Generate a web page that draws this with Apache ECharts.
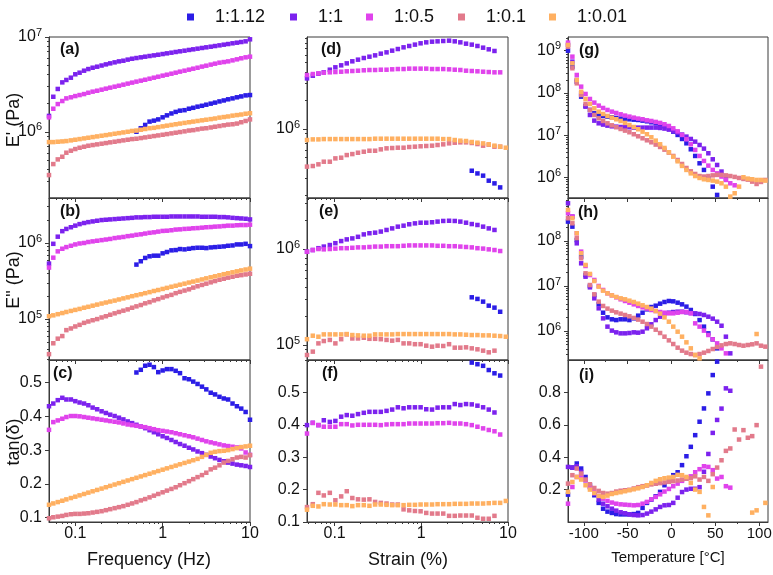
<!DOCTYPE html>
<html>
<head>
<meta charset="utf-8">
<script src="https://cdn.jsdelivr.net/npm/echarts@6.0.0/dist/echarts.min.js"></script>
<style>
html,body{margin:0;padding:0;background:#ffffff;}
#chart{width:773px;height:575px;}
</style>
</head>
<body>
<div id="chart"></div>
<script>
// ===================== DATA =====================
const seriesNames = ['1:1.12', '1:1', '1:0.5', '1:0.1', '1:0.01'];

// ---- column 1: frequency sweep (Hz) ----
const freqHz = [0.050,0.056,0.063,0.071,0.079,0.089,0.100,0.112,0.126,0.141,0.158,0.178,0.200,0.224,0.251,0.282,0.316,0.355,0.398,0.447,0.501,0.562,0.631,0.708,0.794,0.891,1.00,1.12,1.26,1.41,1.58,1.78,2.00,2.24,2.51,2.82,3.16,3.55,3.98,4.47,5.01,5.62,6.31,7.08,7.94,8.91,10.0];
const freqHz_112 = [0.501,0.562,0.631,0.708,0.794,0.891,1.00,1.12,1.26,1.41,1.58,1.78,2.00,2.24,2.51,2.82,3.16,3.55,3.98,4.47,5.01,5.62,6.31,7.08,7.94,8.91,10.0];

// (a) E' vs frequency (Pa)
const freqStorage_112 = [1.00e6,1.09e6,1.18e6,1.28e6,1.31e6,1.35e6,1.42e6,1.49e6,1.56e6,1.62e6,1.67e6,1.69e6,1.75e6,1.79e6,1.84e6,1.88e6,1.93e6,1.98e6,2.03e6,2.09e6,2.14e6,2.20e6,2.25e6,2.31e6,2.36e6,2.42e6,2.44e6];
const freqStorage_100 = [1.47e6,2.34e6,2.83e6,3.32e6,3.52e6,3.72e6,4.04e6,4.20e6,4.41e6,4.59e6,4.74e6,4.86e6,5.00e6,5.14e6,5.27e6,5.40e6,5.53e6,5.62e6,5.77e6,5.90e6,6.00e6,6.10e6,6.20e6,6.30e6,6.40e6,6.50e6,6.61e6,6.72e6,6.83e6,6.95e6,7.06e6,7.17e6,7.30e6,7.41e6,7.53e6,7.66e6,7.78e6,7.90e6,8.03e6,8.16e6,8.30e6,8.43e6,8.58e6,8.71e6,8.85e6,9.00e6,9.45e6];
const freqStorage_050 = [1.42e6,1.75e6,1.96e6,2.11e6,2.25e6,2.31e6,2.38e6,2.44e6,2.50e6,2.58e6,2.65e6,2.71e6,2.78e6,2.85e6,2.92e6,2.99e6,3.06e6,3.14e6,3.22e6,3.30e6,3.38e6,3.46e6,3.54e6,3.63e6,3.72e6,3.81e6,3.91e6,4.00e6,4.10e6,4.20e6,4.31e6,4.41e6,4.52e6,4.63e6,4.74e6,4.87e6,4.98e6,5.11e6,5.23e6,5.36e6,5.44e6,5.53e6,5.67e6,5.81e6,5.96e6,6.10e6,6.20e6];
const freqStorage_010 = [3.49e5,4.56e5,5.11e5,5.45e5,6.01e5,6.31e5,6.57e5,6.78e5,6.95e5,7.12e5,7.24e5,7.36e5,7.48e5,7.60e5,7.73e5,7.85e5,7.98e5,8.11e5,8.24e5,8.37e5,8.44e5,8.58e5,8.72e5,8.86e5,9.01e5,9.15e5,9.30e5,9.45e5,9.61e5,9.77e5,9.93e5,1.01e6,1.03e6,1.04e6,1.06e6,1.08e6,1.09e6,1.11e6,1.13e6,1.15e6,1.17e6,1.19e6,1.20e6,1.22e6,1.26e6,1.30e6,1.35e6];
const freqStorage_001 = [7.78e5,7.78e5,7.85e5,7.91e5,7.98e5,8.11e5,8.24e5,8.37e5,8.51e5,8.65e5,8.79e5,8.93e5,9.08e5,9.22e5,9.37e5,9.53e5,9.68e5,9.84e5,1.00e6,1.02e6,1.03e6,1.05e6,1.07e6,1.09e6,1.10e6,1.12e6,1.14e6,1.16e6,1.18e6,1.20e6,1.22e6,1.24e6,1.26e6,1.28e6,1.30e6,1.32e6,1.34e6,1.36e6,1.38e6,1.41e6,1.43e6,1.45e6,1.48e6,1.50e6,1.52e6,1.55e6,1.57e6];

// (b) E'' vs frequency (Pa)
const freqLoss_112 = [5.20e5,5.75e5,6.36e5,6.68e5,6.81e5,6.81e5,7.31e5,7.61e5,8.00e5,8.07e5,8.32e5,8.24e5,8.40e5,8.57e5,8.66e5,8.66e5,8.57e5,8.74e5,8.83e5,8.92e5,9.01e5,9.19e5,9.28e5,9.57e5,9.57e5,9.75e5,9.10e5];
const freqLoss_100 = [5.36e5,9.75e5,1.21e6,1.43e6,1.53e6,1.61e6,1.69e6,1.77e6,1.83e6,1.88e6,1.92e6,1.96e6,2.00e6,2.02e6,2.04e6,2.06e6,2.08e6,2.10e6,2.12e6,2.14e6,2.17e6,2.17e6,2.19e6,2.19e6,2.21e6,2.21e6,2.21e6,2.21e6,2.23e6,2.23e6,2.23e6,2.23e6,2.23e6,2.23e6,2.23e6,2.21e6,2.21e6,2.21e6,2.21e6,2.19e6,2.19e6,2.17e6,2.14e6,2.12e6,2.10e6,2.08e6,2.04e6];
const freqLoss_050 = [4.75e5,6.41e5,7.76e5,8.40e5,8.83e5,9.19e5,9.57e5,9.85e5,1.00e6,1.03e6,1.05e6,1.07e6,1.09e6,1.11e6,1.13e6,1.16e6,1.18e6,1.20e6,1.23e6,1.25e6,1.28e6,1.30e6,1.33e6,1.36e6,1.38e6,1.41e6,1.44e6,1.45e6,1.47e6,1.50e6,1.51e6,1.53e6,1.54e6,1.56e6,1.57e6,1.59e6,1.61e6,1.62e6,1.64e6,1.65e6,1.67e6,1.69e6,1.69e6,1.71e6,1.72e6,1.72e6,1.74e6];
const freqLoss_010 = [3.46e4,4.81e4,5.53e4,5.98e4,7.16e4,7.53e4,8.00e4,8.40e4,8.92e4,9.29e4,9.66e4,1.00e5,1.05e5,1.09e5,1.14e5,1.19e5,1.24e5,1.29e5,1.34e5,1.41e5,1.47e5,1.53e5,1.61e5,1.67e5,1.76e5,1.83e5,1.92e5,2.00e5,2.08e5,2.19e5,2.28e5,2.37e5,2.46e5,2.59e5,2.70e5,2.81e5,2.92e5,3.04e5,3.16e5,3.29e5,3.39e5,3.50e5,3.60e5,3.71e5,3.78e5,3.86e5,3.94e5];
const freqLoss_001 = [1.09e5,1.12e5,1.16e5,1.20e5,1.24e5,1.28e5,1.32e5,1.36e5,1.41e5,1.45e5,1.50e5,1.55e5,1.60e5,1.65e5,1.70e5,1.75e5,1.81e5,1.87e5,1.93e5,2.00e5,2.06e5,2.12e5,2.19e5,2.26e5,2.34e5,2.41e5,2.49e5,2.57e5,2.66e5,2.74e5,2.83e5,2.92e5,3.02e5,3.11e5,3.21e5,3.32e5,3.43e5,3.54e5,3.65e5,3.77e5,3.89e5,4.00e5,4.12e5,4.24e5,4.36e5,4.48e5,4.60e5];

// (c) tan(delta) vs frequency
const freqTan_112 = [0.530,0.538,0.550,0.553,0.546,0.531,0.536,0.540,0.540,0.535,0.528,0.513,0.510,0.503,0.496,0.488,0.480,0.470,0.465,0.458,0.453,0.450,0.438,0.430,0.423,0.413,0.390];
const freqTan_100 = [0.430,0.438,0.448,0.455,0.450,0.450,0.445,0.441,0.438,0.433,0.426,0.421,0.415,0.410,0.405,0.401,0.396,0.391,0.385,0.380,0.375,0.370,0.365,0.359,0.353,0.347,0.341,0.336,0.330,0.324,0.318,0.313,0.307,0.302,0.296,0.291,0.286,0.281,0.276,0.271,0.267,0.263,0.260,0.257,0.255,0.253,0.250];
const freqTan_050 = [0.360,0.383,0.388,0.393,0.398,0.401,0.401,0.400,0.398,0.396,0.394,0.392,0.390,0.388,0.386,0.384,0.382,0.379,0.376,0.374,0.372,0.370,0.368,0.365,0.362,0.359,0.357,0.355,0.353,0.350,0.347,0.344,0.341,0.338,0.334,0.330,0.326,0.323,0.320,0.317,0.314,0.312,0.310,0.308,0.305,0.293,0.286];
const freqTan_010 = [0.098,0.101,0.103,0.105,0.108,0.110,0.111,0.111,0.112,0.113,0.115,0.117,0.119,0.122,0.125,0.128,0.131,0.134,0.138,0.142,0.146,0.151,0.155,0.160,0.165,0.170,0.175,0.180,0.185,0.190,0.196,0.202,0.208,0.214,0.220,0.226,0.233,0.243,0.248,0.255,0.263,0.268,0.273,0.278,0.280,0.278,0.285];
const freqTan_001 = [0.138,0.142,0.146,0.150,0.154,0.158,0.162,0.166,0.170,0.174,0.178,0.182,0.186,0.190,0.194,0.198,0.202,0.206,0.210,0.214,0.218,0.222,0.226,0.230,0.234,0.238,0.242,0.246,0.250,0.254,0.258,0.262,0.266,0.270,0.274,0.280,0.286,0.292,0.295,0.297,0.298,0.300,0.303,0.306,0.309,0.311,0.313];

// ---- column 2: strain sweep (%) ----
const strainPct = [0.048,0.056,0.065,0.075,0.088,0.102,0.119,0.138,0.160,0.186,0.217,0.252,0.293,0.341,0.397,0.461,0.536,0.624,0.725,0.844,0.981,1.14,1.33,1.54,1.79,2.09,2.43,2.82,3.28,3.82,4.44,5.16,6.00,6.98,8.12,9.44];
const strainPct_112 = [3.82,4.44,5.16,6.00,6.98,8.12];

// (d) E' vs strain (Pa)
const strainStorage_112 = [3.64e5,3.41e5,3.23e5,2.86e5,2.68e5,2.43e5];
const strainStorage_100 = [3.41e6,3.64e6,3.82e6,3.95e6,4.21e6,4.46e6,4.68e6,4.91e6,5.16e6,5.37e6,5.59e6,5.77e6,5.96e6,6.21e6,6.41e6,6.68e6,6.95e6,7.24e6,7.48e6,7.73e6,7.98e6,8.17e6,8.30e6,8.37e6,8.44e6,8.51e6,8.37e6,8.17e6,7.91e6,7.73e6,7.48e6,7.18e6,6.90e6,6.63e6];
const strainStorage_050 = [3.70e6,3.79e6,3.85e6,3.92e6,3.95e6,3.98e6,4.01e6,4.05e6,4.08e6,4.11e6,4.15e6,4.18e6,4.18e6,4.21e6,4.21e6,4.25e6,4.28e6,4.28e6,4.32e6,4.32e6,4.32e6,4.32e6,4.28e6,4.28e6,4.28e6,4.25e6,4.21e6,4.18e6,4.11e6,4.08e6,4.05e6,4.01e6,3.98e6,3.95e6,3.95e6];
const strainStorage_010 = [4.02e5,4.08e5,4.25e5,4.53e5,4.53e5,4.91e5,4.99e5,5.32e5,5.45e5,5.63e5,5.77e5,5.91e5,5.91e5,6.11e5,6.26e5,6.31e5,6.36e5,6.36e5,6.47e5,6.52e5,6.58e5,6.63e5,6.68e5,6.79e5,6.90e5,7.07e5,7.18e5,7.24e5,7.24e5,7.13e5,6.95e5,6.68e5,6.84e5,6.52e5,6.52e5];
const strainStorage_001 = [7.66e5,7.78e5,7.78e5,7.84e5,7.84e5,7.84e5,7.84e5,7.84e5,7.84e5,7.84e5,7.84e5,7.84e5,7.91e5,7.91e5,7.91e5,7.91e5,7.91e5,7.91e5,7.91e5,7.91e5,7.91e5,7.91e5,7.91e5,7.91e5,7.84e5,7.84e5,7.66e5,7.54e5,7.48e5,7.30e5,7.18e5,7.06e5,6.90e5,6.68e5,6.52e5,6.36e5];

// (e) E'' vs strain (Pa)
const strainLoss_112 = [3.14e5,3.02e5,2.83e5,2.57e5,2.45e5,2.22e5];
const strainLoss_100 = [9.38e5,9.76e5,1.02e6,1.06e6,1.10e6,1.15e6,1.21e6,1.26e6,1.29e6,1.34e6,1.42e6,1.46e6,1.48e6,1.52e6,1.58e6,1.64e6,1.71e6,1.75e6,1.81e6,1.85e6,1.88e6,1.88e6,1.90e6,1.93e6,1.96e6,1.97e6,1.96e6,1.93e6,1.88e6,1.82e6,1.78e6,1.71e6,1.64e6,1.58e6];
const strainLoss_050 = [9.38e5,9.76e5,1.00e6,9.92e5,1.00e6,1.01e6,1.02e6,1.02e6,1.03e6,1.04e6,1.04e6,1.05e6,1.06e6,1.06e6,1.07e6,1.07e6,1.07e6,1.08e6,1.09e6,1.09e6,1.09e6,1.09e6,1.09e6,1.08e6,1.08e6,1.07e6,1.07e6,1.06e6,1.05e6,1.04e6,1.02e6,1.01e6,9.92e5,9.76e5,9.53e5];
const strainLoss_010 = [7.87e4,8.53e4,1.04e5,1.10e5,1.13e5,1.04e5,1.15e5,1.29e5,1.17e5,1.17e5,1.19e5,1.16e5,1.16e5,1.15e5,1.13e5,1.11e5,1.13e5,1.04e5,1.04e5,1.02e5,1.02e5,9.84e4,9.61e4,9.84e4,9.77e4,1.02e5,9.38e4,9.38e4,9.46e4,9.23e4,9.02e4,8.73e4,8.39e4,8.73e4];
const strainLoss_001 = [1.15e5,1.25e5,1.22e5,1.29e5,1.29e5,1.29e5,1.29e5,1.30e5,1.27e5,1.26e5,1.25e5,1.25e5,1.29e5,1.29e5,1.29e5,1.29e5,1.30e5,1.30e5,1.30e5,1.30e5,1.30e5,1.30e5,1.30e5,1.30e5,1.30e5,1.30e5,1.29e5,1.29e5,1.28e5,1.27e5,1.27e5,1.26e5,1.26e5,1.25e5,1.24e5,1.22e5];

// (f) tan(delta) vs strain
const strainTan_112 = [0.592,0.587,0.582,0.569,0.559,0.552];
const strainTan_100 = [0.399,0.406,0.399,0.414,0.409,0.412,0.425,0.430,0.428,0.433,0.437,0.440,0.440,0.440,0.443,0.447,0.454,0.451,0.454,0.454,0.454,0.448,0.447,0.453,0.454,0.454,0.464,0.461,0.464,0.463,0.459,0.454,0.447,0.438];
const strainTan_050 = [0.373,0.406,0.399,0.394,0.394,0.394,0.402,0.402,0.398,0.400,0.400,0.400,0.400,0.399,0.401,0.402,0.402,0.402,0.404,0.404,0.404,0.404,0.404,0.405,0.405,0.406,0.404,0.404,0.402,0.399,0.394,0.389,0.384,0.380,0.370];
const strainTan_010 = [0.146,0.155,0.190,0.182,0.190,0.167,0.179,0.195,0.174,0.170,0.169,0.170,0.162,0.159,0.157,0.154,0.154,0.139,0.136,0.134,0.133,0.128,0.126,0.126,0.126,0.119,0.119,0.120,0.120,0.120,0.113,0.110,0.110,0.119];
const strainTan_001 = [0.138,0.150,0.148,0.155,0.154,0.154,0.152,0.152,0.149,0.152,0.152,0.150,0.154,0.154,0.153,0.152,0.152,0.152,0.153,0.153,0.154,0.154,0.154,0.155,0.155,0.155,0.156,0.156,0.156,0.157,0.157,0.157,0.158,0.159,0.159,0.165];

// ---- column 3: temperature sweep (°C) ----
const tempC = [-118,-113,-108,-103,-98,-93,-88,-83,-78,-73,-68,-63,-58,-53,-48,-43,-38,-33,-28,-23,-18,-13,-8,-3,2,7,12,17,22,27,32,37,42,47,52,57,62,67,72,77,82,87,92,97,102,107];

// (g) E' vs temperature (Pa)
const tempStorage_112 = [1.00e9,4.19e8,1.85e8,8.19e7,4.93e7,3.97e7,3.31e7,2.97e7,2.86e7,2.76e7,2.66e7,2.57e7,2.48e7,2.43e7,2.39e7,2.34e7,2.30e7,2.22e7,2.14e7,2.03e7,1.92e7,1.79e7,1.63e7,1.44e7,1.22e7,1.02e7,8.19e6,6.47e6,4.67e6,3.25e6,2.18e6,1.52e6,9.64e5,6.12e5,3.90e5];
const tempStorage_100 = [1.36e9,5.50e8,2.03e8,9.82e7,4.75e7,3.02e7,2.22e7,1.92e7,1.79e7,1.69e7,1.63e7,1.60e7,1.57e7,1.55e7,1.55e7,1.52e7,1.52e7,1.52e7,1.52e7,1.52e7,1.52e7,1.49e7,1.44e7,1.36e7,1.26e7,1.16e7,1.04e7,9.31e6,8.19e6,7.08e6,5.91e6,4.84e6,3.76e6,2.71e6,1.99e6,1.39e6,9.14e5];
const tempStorage_050 = [1.55e9,7.21e8,2.66e8,1.41e8,9.47e7,7.21e7,5.91e7,5.02e7,4.42e7,3.97e7,3.62e7,3.37e7,3.13e7,2.92e7,2.76e7,2.61e7,2.48e7,2.39e7,2.26e7,2.18e7,2.07e7,1.96e7,1.82e7,1.66e7,1.46e7,1.24e7,1.02e7,8.05e6,6.13e6,4.51e6,3.25e6,2.48e6,1.92e6,1.52e6,1.26e6,1.06e6,8.81e5,7.35e5,6.59e5];
const tempStorage_010 = [1.24e9,3.83e8,1.69e8,8.97e7,5.50e7,3.97e7,3.02e7,2.52e7,2.18e7,1.92e7,1.72e7,1.55e7,1.41e7,1.29e7,1.18e7,1.06e7,9.47e6,8.50e6,7.62e6,6.84e6,6.03e6,5.30e6,4.58e6,3.90e6,3.25e6,2.61e6,2.10e6,1.69e6,1.41e6,1.22e6,1.09e6,1.06e6,1.09e6,1.13e6,1.16e6,1.16e6,1.13e6,1.09e6,1.04e6,9.82e5,9.31e5,8.97e5,8.05e5,7.08e5,7.91e5,8.81e5];
const tempStorage_001 = [1.36e9,5.02e8,2.03e8,1.07e8,7.21e7,5.50e7,4.34e7,3.62e7,3.19e7,2.86e7,2.61e7,2.39e7,2.18e7,1.96e7,1.75e7,1.57e7,1.39e7,1.22e7,1.06e7,8.97e6,7.48e6,6.13e6,5.02e6,3.97e6,3.13e6,2.43e6,1.89e6,1.52e6,1.26e6,1.09e6,9.82e5,9.14e5,8.81e5,8.50e5,8.05e5,7.35e5,6.12e5,3.56e5,4.27e5,6.12e5,1.02e6,9.47e5,9.14e5,8.81e5,8.81e5,8.50e5];

// (h) E'' vs temperature (Pa)
const tempLoss_112 = [2.69e8,2.08e8,1.05e8,4.49e7,1.75e7,1.00e7,6.31e6,3.98e6,2.55e6,2.01e6,1.82e6,1.75e6,1.82e6,1.82e6,1.75e6,1.91e6,2.19e6,2.55e6,3.03e6,3.41e6,3.65e6,4.05e6,4.41e6,4.64e6,4.56e6,4.26e6,3.91e6,3.48e6,2.93e6,2.39e6,1.75e6,1.25e6,8.87e5,6.53e5,4.12e5];
const tempLoss_100 = [6.87e8,3.48e8,8.87e7,3.19e7,1.61e7,9.33e6,5.32e6,3.19e6,1.91e6,1.25e6,1.02e6,9.34e5,8.87e5,8.87e5,9.03e5,9.34e5,9.18e5,9.66e5,1.15e6,1.41e6,1.75e6,2.08e6,2.39e6,2.56e6,2.64e6,2.69e6,2.69e6,2.60e6,2.51e6,2.47e6,2.39e6,2.27e6,2.08e6,1.88e6,1.61e6,1.31e6,7.48e5,3.19e5];
const tempLoss_050 = [4.12e8,3.48e8,1.48e8,5.80e7,2.78e7,1.75e7,1.36e7,1.00e7,8.15e6,6.87e6,6.20e6,5.60e6,5.06e6,4.64e6,4.26e6,3.91e6,3.60e6,3.36e6,3.14e6,2.93e6,2.78e6,2.64e6,2.55e6,2.47e6,2.47e6,2.55e6,2.64e6,2.64e6,2.47e6,1.48e6,1.25e6,1.02e6,8.15e5,6.53e5,5.32e5,4.12e5,3.19e5];
const tempLoss_010 = [3.19e8,2.47e8,1.15e8,4.12e7,1.91e7,1.05e7,6.53e6,4.49e6,3.60e6,3.14e6,2.83e6,2.60e6,2.43e6,2.27e6,2.12e6,1.95e6,1.79e6,1.61e6,1.43e6,1.25e6,1.07e6,9.03e5,7.48e5,6.20e5,5.14e5,4.26e5,3.66e5,3.30e5,3.08e5,2.93e5,3.08e5,3.30e5,3.60e5,3.98e5,4.41e5,4.80e5,5.14e5,5.32e5,5.14e5,4.89e5,4.72e5,4.89e5,5.06e5,5.32e5,4.72e5,4.49e5];
const tempLoss_001 = [4.89e8,3.19e8,1.48e8,5.32e7,2.93e7,1.85e7,1.29e7,9.66e6,7.88e6,6.87e6,6.20e6,5.70e6,5.32e6,5.06e6,4.72e6,4.41e6,4.05e6,3.72e6,3.41e6,3.14e6,2.78e6,2.43e6,2.01e6,1.61e6,1.25e6,9.66e5,7.48e5,5.60e5,4.12e5,2.93e5,2.47e5,null,null,null,null,null,null,null,null,null,null,null,null,8.57e5,null,null];

// (i) tan(delta) vs temperature
const tempTan_112 = [0.169,0.336,0.361,0.330,0.278,0.227,0.165,0.118,0.082,0.064,0.056,0.049,0.047,0.047,0.047,0.049,0.056,0.087,0.118,0.138,0.159,0.186,0.227,0.254,0.289,0.307,0.351,0.406,0.464,0.536,0.619,0.701,0.794,0.907,0.990];
const tempTan_100 = [0.340,0.336,0.344,0.309,0.258,0.216,0.175,0.138,0.113,0.097,0.082,0.070,0.060,0.054,0.047,0.043,0.041,0.043,0.052,0.064,0.078,0.093,0.103,0.105,0.118,0.150,0.185,0.200,0.205,0.205,0.215,0.310,0.420,0.550,0.630,0.700,0.825,0.810];
const tempTan_050 = [0.113,0.216,0.278,0.282,0.258,0.216,0.186,0.161,0.144,0.130,0.120,0.113,0.109,0.107,0.105,0.103,0.105,0.113,0.124,0.140,0.155,0.171,0.188,0.204,0.221,0.237,0.254,0.268,0.282,0.307,0.326,0.344,0.340,0.320,0.268,0.278,0.221,0.212];
const tempTan_010 = [0.237,0.289,0.330,0.299,0.262,0.233,0.210,0.192,0.179,0.175,0.179,0.188,0.193,0.196,0.199,0.207,0.215,0.221,0.225,0.232,0.236,0.240,0.244,0.248,0.252,0.256,0.262,0.267,0.271,0.282,0.262,0.278,0.254,0.295,0.336,0.381,0.439,0.454,0.571,0.509,0.567,0.520,0.530,0.598,0.959];
const tempTan_001 = [0.186,0.247,0.278,0.262,0.227,0.200,0.179,0.161,0.155,0.163,0.173,0.179,0.184,0.190,0.196,0.202,0.208,0.216,0.227,0.241,0.254,0.264,0.270,0.274,0.278,0.291,0.289,0.278,0.241,0.200,0.186,0.093,0.041,0.216,null,null,null,null,null,null,null,null,0.058,0.072,null,0.118];

// tick label values
const freqTicks = [0.1, 1, 10];
const strainTicks = [0.1, 1, 10];
const tempTicks = [-100, -50, 0, 50, 100];
const tempMinorTicks = [-75, -25, 25, 75];
const tanTicksFreq = [0.1, 0.2, 0.3, 0.4, 0.5];
const tanTicksStrain = [0.1, 0.2, 0.3, 0.4, 0.5];
const tanTicksTemp = [0.2, 0.4, 0.6, 0.8];

// ===================== STYLE / LAYOUT =====================
const COLORS = ['#2b1de6', '#7c22ee', '#e043ec', '#e27a8b', '#ffb061'];
const FONT = '"Liberation Sans", Arial, Helvetica, sans-serif';
const INK = '#111111';
const FRAME = '#3a3a3a';
const colLeft = [49, 307, 568], colW = [201, 201, 200];
const rowTop = [37, 198, 360], rowH = [161, 162, 162];

function decadesIn(min, max) {
  const out = [];
  for (let e = -3; e <= 10; e++) { const v = Math.pow(10, e); if (v >= min * 0.9999 && v <= max * 1.0001) out.push(v); }
  return out;
}
function minorsIn(min, max) {
  const out = [];
  for (let e = -3; e <= 10; e++) for (let k = 2; k <= 9; k++) { const v = k * Math.pow(10, e); if (v > min && v < max) out.push(v); }
  return out;
}
const plainFmt = v => String(+(+v).toPrecision(6));
const dec1Fmt = v => (+v).toFixed(1);
const sciFmt = v => '{b|10}{s|' + Math.round(Math.log10(v)) + '}';
function rich(fs) {
  return {
    b: { fontSize: fs, fontFamily: FONT, color: INK },
    s: { fontSize: Math.round(fs * 0.68), fontFamily: FONT, color: INK, padding: [0, 0, Math.round(fs * 0.55), 0] }
  };
}
function logY(min, max) {
  return { type: 'log', min, max, majors: decadesIn(min, max), minors: minorsIn(min, max), fmt: sciFmt, fs: 16, margin: 7 };
}
function linY(min, max, majors) {
  return { type: 'value', min, max, majors, minors: [], fmt: dec1Fmt, fs: 16, margin: 7 };
}
const xDefs = [
  { type: 'log', min: 0.05, max: 10, majors: freqTicks, minors: minorsIn(0.05, 10), fmt: plainFmt, fs: 16, margin: 4 },
  { type: 'log', min: 0.048, max: 10, majors: strainTicks, minors: minorsIn(0.048, 10), fmt: plainFmt, fs: 16, margin: 4 },
  { type: 'value', min: -118, max: 110, majors: tempTicks, minors: tempMinorTicks, fmt: plainFmt, fs: 15, margin: 4 }
];
const yDefs = [
  logY(2.0e5, 1e7), logY(1.88e5, 9.3e6), logY(3.3e5, 2.1e9),
  logY(2.9e4, 3.9e6), logY(6.98e4, 3.4e6), logY(2.27e5, 9.0e8),
  linY(0.087, 0.567, tanTicksFreq), linY(0.1, 0.6, tanTicksStrain), linY(0, 1, tanTicksTemp)
];

const panels = [
  { xs: freqHz, xs112: freqHz_112, ys: [freqStorage_112, freqStorage_100, freqStorage_050, freqStorage_010, freqStorage_001] },
  { xs: strainPct, xs112: strainPct_112, ys: [strainStorage_112, strainStorage_100, strainStorage_050, strainStorage_010, strainStorage_001] },
  { xs: tempC, xs112: tempC, ys: [tempStorage_112, tempStorage_100, tempStorage_050, tempStorage_010, tempStorage_001] },
  { xs: freqHz, xs112: freqHz_112, ys: [freqLoss_112, freqLoss_100, freqLoss_050, freqLoss_010, freqLoss_001] },
  { xs: strainPct, xs112: strainPct_112, ys: [strainLoss_112, strainLoss_100, strainLoss_050, strainLoss_010, strainLoss_001] },
  { xs: tempC, xs112: tempC, ys: [tempLoss_112, tempLoss_100, tempLoss_050, tempLoss_010, tempLoss_001] },
  { xs: freqHz, xs112: freqHz_112, ys: [freqTan_112, freqTan_100, freqTan_050, freqTan_010, freqTan_001] },
  { xs: strainPct, xs112: strainPct_112, ys: [strainTan_112, strainTan_100, strainTan_050, strainTan_010, strainTan_001] },
  { xs: tempC, xs112: tempC, ys: [tempTan_112, tempTan_100, tempTan_050, tempTan_010, tempTan_001] }
];
const panelLabels = [
  ['(a)', 60, 50], ['(d)', 321, 50], ['(g)', 579, 51],
  ['(b)', 60, 212], ['(e)', 319, 212], ['(h)', 578, 213],
  ['(c)', 53, 374], ['(f)', 322, 374], ['(i)', 579, 376]
];

function pts(xs, ys) {
  const out = [];
  for (let i = 0; i < ys.length; i++) if (ys[i] != null) out.push([xs[i], ys[i]]);
  return out;
}
function mainAxis(g, d, pos, showLabels) {
  return {
    gridIndex: g, type: d.type, logBase: 10, min: d.min, max: d.max, position: pos,
    axisLine: { show: true, onZero: false, lineStyle: { color: FRAME, width: 1 } },
    axisTick: { show: true, inside: false, length: 4, customValues: d.majors, lineStyle: { color: FRAME, width: 1 } },
    minorTick: { show: false }, splitLine: { show: false }, splitArea: { show: false },
    axisLabel: { show: showLabels, customValues: d.majors, formatter: d.fmt, margin: d.margin, fontSize: d.fs, color: INK, fontFamily: FONT, rich: rich(d.fs), hideOverlap: false },
    axisPointer: { show: false }, silent: true
  };
}
function minorAxis(g, d, pos) {
  return {
    gridIndex: g, type: d.type, logBase: 10, min: d.min, max: d.max, position: pos,
    axisLine: { show: false, onZero: false },
    axisTick: { show: d.minors.length > 0, inside: false, length: 2, customValues: d.minors.length ? d.minors : [d.min], lineStyle: { color: FRAME, width: 1 } },
    minorTick: { show: false }, splitLine: { show: false }, splitArea: { show: false },
    axisLabel: { show: false }, axisPointer: { show: false }, silent: true
  };
}

const grids = [], xAxes = [], yAxes = [], series = [];
for (let r = 0; r < 3; r++) {
  for (let c = 0; c < 3; c++) {
    const g = r * 3 + c;
    grids.push({ left: colLeft[c], top: rowTop[r], width: colW[c], height: rowH[r], show: true, borderColor: FRAME, borderWidth: 1, backgroundColor: 'transparent', containLabel: false, outerBoundsMode: 'none' });
    xAxes.push(mainAxis(g, xDefs[c], 'bottom', r === 2));
    xAxes.push(minorAxis(g, xDefs[c], 'bottom'));
    yAxes.push(mainAxis(g, yDefs[g], 'left', true));
    yAxes.push(minorAxis(g, yDefs[g], 'left'));
    const p = panels[g];
    for (let s = 0; s < 5; s++) {
      const xs = s === 0 ? p.xs112 : p.xs;
      series.push({
        type: 'scatter', name: seriesNames[s], xAxisIndex: 2 * g, yAxisIndex: 2 * g,
        data: pts(xs, p.ys[s]), symbol: 'rect', symbolSize: 4.5,
        itemStyle: { color: COLORS[s], opacity: 1 }, silent: true, clip: true, animation: false, z: 2
      });
    }
  }
}

const legendX = [182, 285, 361, 453, 544];
const legends = seriesNames.map((n, i) => ({
  data: [n], left: legendX[i], top: 3, icon: 'rect', itemWidth: 7, itemHeight: 7,
  selectedMode: false, textStyle: { fontSize: 18, color: INK, fontFamily: FONT, padding: [0, 0, 0, 16] }
}));

const graphics = [];
function addText(text, x, y, font, rot, align) {
  graphics.push({ type: 'text', x, y, rotation: rot || 0, silent: true,
    style: { text, font, fill: INK, textAlign: align || 'center', textVerticalAlign: 'middle' } });
}
addText("E' (Pa)", 14, 120, '18px ' + FONT, Math.PI / 2);
addText('E" (Pa)', 14, 280, '18px ' + FONT, Math.PI / 2);
addText('tan(\u03b4)', 14, 442, '18px ' + FONT, Math.PI / 2);
addText('Frequency (Hz)', 149, 560, '18px ' + FONT);
addText('Strain (%)', 408, 560, '18px ' + FONT);
addText('Temperature [\u00b0C]', 668, 558, '15px ' + FONT);
panelLabels.forEach(l => addText(l[0], l[1], l[2], 'bold 16px ' + FONT, 0, 'left'));

const chart = echarts.init(document.getElementById('chart'), null, { renderer: 'canvas' });
chart.setOption({
  backgroundColor: '#ffffff',
  animation: false,
  textStyle: { fontFamily: FONT },
  legend: legends,
  grid: grids,
  xAxis: xAxes,
  yAxis: yAxes,
  series: series,
  graphic: graphics
});
</script>
</body>
</html>
